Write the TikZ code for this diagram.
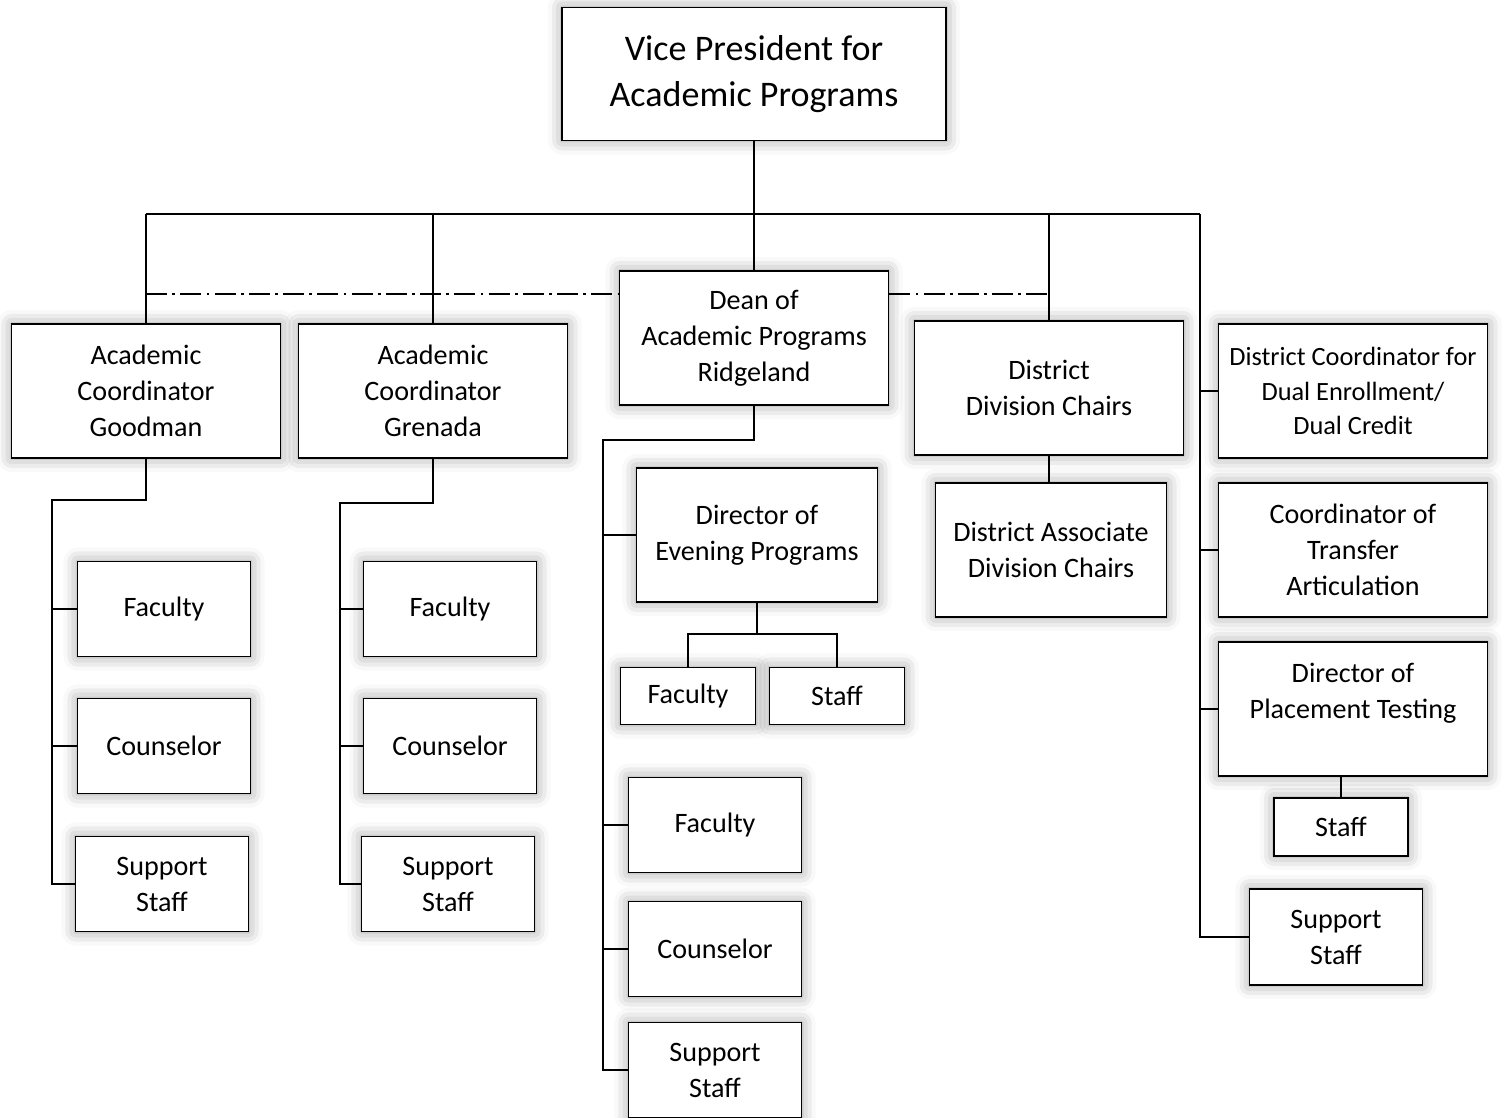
\documentclass[tikz,border=0pt]{standalone}
\usepackage{fontspec}
\setmainfont{Carlito}
\usepackage{tikz}
\usetikzlibrary{shadows.blur}
\usetikzlibrary{calc}

\tikzset{
  box/.style={draw, line width=1pt, fill=white, align=center, inner sep=2pt,
    font=\fontsize{16}{20.5}\selectfont,
    blur shadow={shadow xshift=0pt, shadow yshift=0pt, shadow blur radius=8pt, shadow opacity=40}},
  bigbox/.style={box, minimum width=5.38cm, minimum height=2.68cm},
  smallbox/.style={box, minimum width=3.46cm, minimum height=1.9cm},
  tinybox/.style={box, minimum width=2.7cm, minimum height=1.14cm},
  conn/.style={line width=1.3pt},
  liaison/.style={line width=1.3pt, dash pattern=on 12pt off 3pt on 1.5pt off 3pt}
}

\begin{document}
\begin{tikzpicture}[x=0.02cm, y=-0.02cm]
  \useasboundingbox (0,0) rectangle (1502,1118);

  % top
  \node[box, minimum width=7.68cm, minimum height=2.66cm,
        font=\fontsize{20.5}{26.2}\selectfont] (vp) at (754,74) {Vice President for\\Academic Programs};

  % second level
  \node[bigbox] (good) at (146,391) {Academic\\Coordinator\\Goodman};
  \node[bigbox] (gren) at (433,391) {Academic\\Coordinator\\Grenada};
  \node[bigbox] (dean) at (754,338) {Dean of\\Academic Programs\\Ridgeland};
  \node[bigbox] (chairs) at (1049,388) {District\\Division Chairs};
  \node[box, minimum width=4.62cm, minimum height=2.68cm] (assoc) at (1051,550) {District Associate\\Division Chairs};

  % right column
  \node[bigbox, font=\fontsize{15}{19.5}\selectfont] (dual) at (1353,391) {District Coordinator for\\Dual Enrollment/\\Dual Credit};
  \node[bigbox] (trans) at (1353,550) {Coordinator of\\Transfer\\Articulation};
  \node[bigbox] (place) at (1353,709) {Director of\\Placement Testing\\~};
  \node[tinybox, minimum width=2.68cm, minimum height=1.16cm] (rstf) at (1341,827) {Staff};
  \node[smallbox, minimum height=1.92cm] (rsup) at (1336,937) {Support\\Staff};

  % Goodman
  \node[smallbox] (gfac) at (164,609) {Faculty};
  \node[smallbox] (gcou) at (164,746) {Counselor};
  \node[smallbox] (gsup) at (162,884) {Support\\Staff};

  % Grenada
  \node[smallbox] (nfac) at (450,609) {Faculty};
  \node[smallbox] (ncou) at (450,746) {Counselor};
  \node[smallbox] (nsup) at (448,884) {Support\\Staff};

  % Ridgeland
  \node[box, minimum width=4.82cm, minimum height=2.68cm] (eve) at (757,535) {Director of\\Evening Programs};
  \node[tinybox] (efac) at (688,696) {Faculty};
  \node[tinybox] (estf) at (837,696) {Staff};
  \node[smallbox] (dfac) at (715,825) {Faculty};
  \node[smallbox] (dcou) at (715,949) {Counselor};
  \node[smallbox] (dsup) at (715,1070) {Support\\Staff};

  % connectors
  \coordinate (busL) at (146,214);
  \coordinate (busR) at (1200,214);
  \coordinate (dotL) at (146,294);
  \draw[conn] (vp.south) -- (dean.north);
  \draw[conn] (busL) -- (busR);
  \draw[conn] (busL) -- (good.north);
  \draw[conn] (gren.north |- busL) -- (gren.north);
  \draw[conn] (chairs.north |- busL) -- (chairs.north);
  \draw[conn] (chairs.south) -- (chairs.south |- assoc.north);
  \draw[liaison] (dotL) -- (dotL -| dean.west);
  \draw[liaison] (dotL -| dean.east) -- (dotL -| chairs.north);

  \draw[conn] (busR) |- (rsup.west);
  \draw[conn] (busR |- dual.west) -- (dual.west);
  \draw[conn] (busR |- trans.west) -- (trans.west);
  \draw[conn] (busR |- place.west) -- (place.west);
  \draw[conn] (place.south -| rstf.north) -- (rstf.north);

  \coordinate (gspine) at (52,500);
  \draw[conn] (good.south) |- (gspine) |- (gsup.west);
  \draw[conn] (gspine |- gfac.west) -- (gfac.west);
  \draw[conn] (gspine |- gcou.west) -- (gcou.west);

  \coordinate (nspine) at (340,503);
  \draw[conn] (gren.south) |- (nspine) |- (nsup.west);
  \draw[conn] (nspine |- nfac.west) -- (nfac.west);
  \draw[conn] (nspine |- ncou.west) -- (ncou.west);

  \coordinate (dspine) at (603,440);
  \draw[conn] (dean.south) |- (dspine) |- (dsup.west);
  \draw[conn] (dspine |- eve.west) -- (eve.west);
  \draw[conn] (dspine |- dfac.west) -- (dfac.west);
  \draw[conn] (dspine |- dcou.west) -- (dcou.west);

  \coordinate (evebus) at (757,634);
  \draw[conn] (eve.south) -- (evebus);
  \draw[conn] (efac.north) |- (evebus) -| (estf.north);
\end{tikzpicture}
\end{document}
